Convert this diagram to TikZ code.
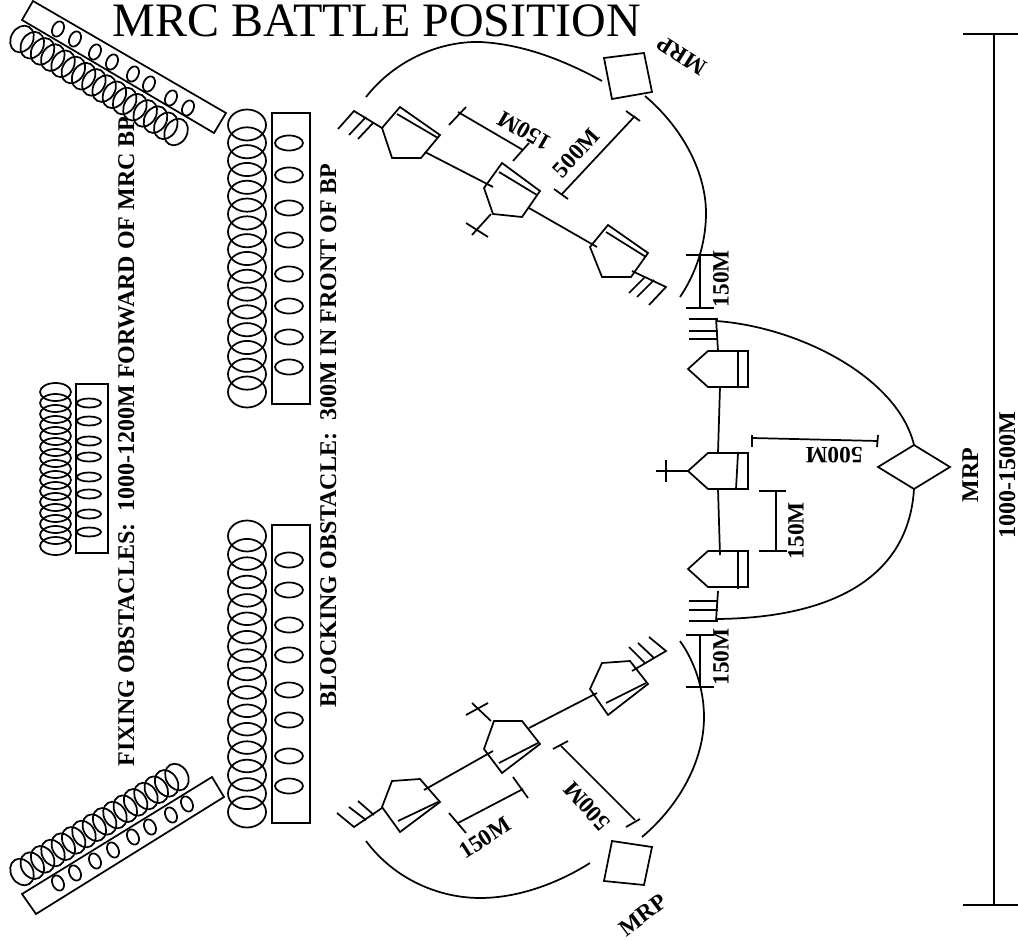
\documentclass[tikz,border=0pt]{standalone}
\usepackage{fontspec}
\setmainfont{Liberation Serif}

\begin{document}
\begin{tikzpicture}[x=0.75pt, y=-0.75pt, line width=1.3pt,
    lbl/.style={font=\fontsize{18}{20}\selectfont\bfseries, inner sep=0pt, anchor=base},
    dist/.style={lbl, font=\fontsize{17.5}{20}\selectfont\bfseries, anchor=center},
    oval/.style={draw=black}
  ]
    \useasboundingbox (0,0) rectangle (1018,941);

    \node[font=\fontsize{36}{40}\selectfont, inner sep=0pt, anchor=base] (title) at (377,37) {MRC BATTLE POSITION};

    \node[lbl, rotate=90] (fixing) at (134,441.5) {FIXING OBSTACLES:\ \ 1000-1200M FORWARD OF MRC BP};
    \node[lbl, rotate=90] (blocking) at (336,435.5) {BLOCKING OBSTACLE:\ \ 300M IN FRONT OF BP};

    % obstacle belts
    \draw (272,113) rectangle (310,404);
    \foreach \y in {143,175,208,240,274,306,337,367}
      \draw[oval] (289,\y) ellipse (14 and 7.5);
    \foreach \i in {0,...,15}
      \draw[oval] (247,125+17.8*\i) ellipse (19 and 15.5);

    \draw (272,525) rectangle (310,823);
    \foreach \y in {560,590,625,655,690,720,756,786}
      \draw[oval] (289,\y) ellipse (14 and 7.5);
    \foreach \i in {0,...,15}
      \draw[oval] (247,536+18.4*\i) ellipse (19 and 15.5);

    \draw (76,384) rectangle (108,553);
    \foreach \y in {403,421,441,457,477,494,514,532}
      \draw[oval] (89,\y) ellipse (12 and 4.5);
    \foreach \i in {0,...,14}
      \draw[oval] (55.5,392+11*\i) ellipse (15.5 and 9);

    \draw (33,1) -- (226,113) -- (214,133) -- (22,20) -- cycle;
    \foreach \x/\y in {58/29,75/39,95/52,112/62,133/74,149/84,171/98,188/108}
      \draw[oval] (\x,\y) ellipse [x radius=8, y radius=5.5, rotate=65];
    \foreach \i in {0,...,15}
      \draw[oval] (22+10.27*\i,39+6.2*\i) ellipse [x radius=14, y radius=11, rotate=60];

    \draw (22,894) -- (212,777) -- (224,797) -- (36,914) -- cycle;
    \foreach \x/\y in {58/883,75/873,95/861,113/850,133/837,150/827,171/815,187/804}
      \draw[oval] (\x,\y) ellipse [x radius=8, y radius=5.5, rotate=115];
    \foreach \i in {0,...,15}
      \draw[oval] (22+10.33*\i,872-6.33*\i) ellipse [x radius=14, y radius=11, rotate=120];

    % upper platoon
    \draw (382,128) -- (400,107) -- (440,135) -- (421,158) -- (392,158) -- cycle;
    \draw (397,114) -- (438,138);
    \draw (484,188) -- (502,163) -- (540,191) -- (522,217) -- (493,214) -- cycle;
    \draw (499,172) -- (537,195);
    \draw (590,247) -- (608,225) -- (648,253) -- (631,277) -- (602,277) -- cycle;
    \draw (606,232) -- (646,257);
    \draw (425,152) -- (493,187);
    \draw (529,208) -- (597,247);
    \draw (382,128) -- (354,111) -- (338,129);
    \draw (366,117) -- (349,135);
    \draw (373,123) -- (358,139);
    \draw (491,214) -- (472,235);
    \draw (466,223) -- (488,237);
    \draw (632,271) -- (666,287) -- (649,305);
    \draw (654,280) -- (637,297);
    \draw (645,277) -- (629,293);
    \draw (366,97) .. controls (395,60) and (440,41) .. (480,42) .. controls (520,44) and (560,58) .. (602,81);
    \draw (645,96) .. controls (685,130) and (706,175) .. (706,213) .. controls (706,245) and (695,275) .. (680,297);
    \draw (604,58) -- (644,53) -- (652,92) -- (612,99) -- cycle;

    \draw (458,112) -- (523,150);
    \draw (449,125) -- (466,107);
    \draw (513,161) -- (529,143);
    \draw (635,116) -- (562,194);
    \draw (626,111) -- (640,121);
    \draw (554,189) -- (568,199);
    \node[dist, rotate=150] (dima) at (524,131) {150M};
    \node[dist, rotate=48] (dimb) at (576,153) {500M};
    \node[dist, rotate=148] (mrpa) at (682,56) {MRP};

    % centre platoon
    \foreach \y in {351,453,551}
      \draw (688,\y+18) -- (708,\y) -- (748,\y) -- (748,\y+36) -- (708,\y+36) -- cycle;
    \draw (738,351) -- (738,387);
    \draw (738,453) -- (736,489);
    \draw (738,551) -- (738,589);
    \draw (720,387) -- (718,453);
    \draw (718,489) -- (720,555);
    \draw (718,351) -- (716,318);
    \draw (718,591) -- (716,621);
    \foreach \y in {319,331,339,601,610,621}
      \draw (689,\y) -- (718,\y);
    \draw (688,471) -- (656,471);
    \draw (666,460) -- (666,482);
    \draw (716,321) .. controls (800,327) and (898,378) .. (914,445);
    \draw (914,489) .. controls (908,585) and (820,618) .. (717,619);
    \draw (878,467) -- (914,445) -- (950,467) -- (914,489) -- cycle;

    \draw (752,438) -- (878,441);
    \draw (752,435) -- (752,447);
    \draw (878,435) -- (877,447);
    \node[dist, rotate=180] (dimc) at (834,455) {500M};
    \draw (776,491) -- (776,551);
    \draw (759,491) -- (786,491);
    \draw (759,551) -- (787,551);
    \node[dist, rotate=90] (dimd) at (796,530.5) {150M};

    % gaps between platoons
    \draw (700,255) -- (700,308);
    \draw (686,255) -- (714,255);
    \draw (686,308) -- (714,308);
    \node[dist, rotate=90] (dime) at (721,278.5) {150M};
    \draw (700,635) -- (700,687);
    \draw (686,635) -- (714,635);
    \draw (686,687) -- (714,687);
    \node[dist, rotate=90] (dimf) at (721,657) {150M};

    % lower platoon
    \draw (382,807) -- (392,781) -- (420,779) -- (440,802) -- (400,832) -- cycle;
    \draw (398,821) -- (438,802);
    \draw (484,749) -- (494,721) -- (522,721) -- (540,744) -- (502,773) -- cycle;
    \draw (499,763) -- (538,743);
    \draw (590,689) -- (602,663) -- (630,661) -- (648,684) -- (608,715) -- cycle;
    \draw (606,703) -- (646,683);
    \draw (424,790) -- (493,751);
    \draw (529,728) -- (597,693);
    \draw (382,808) -- (354,827) -- (337,813);
    \draw (366,820) -- (349,807);
    \draw (374,815) -- (358,801);
    \draw (491,721) -- (472,703);
    \draw (466,715) -- (488,703);
    \draw (632,671) -- (666,651) -- (649,637);
    \draw (654,658) -- (638,643);
    \draw (645,663) -- (629,647);
    \draw (366,841) .. controls (395,880) and (440,898) .. (480,898) .. controls (520,898) and (560,882) .. (590,863);
    \draw (642,837) .. controls (680,805) and (704,760) .. (704,717) .. controls (704,690) and (695,662) .. (680,641);
    \draw (612,841) -- (652,847) -- (644,885) -- (604,881) -- cycle;

    \draw (458,823) -- (523,789);
    \draw (449,813) -- (466,833);
    \draw (513,777) -- (528,798);
    \draw (561,746) -- (635,820);
    \draw (553,749) -- (568,741);
    \draw (626,827) -- (640,819);
    \node[dist, rotate=33] (dimg) at (485,838) {150M};
    \node[dist, rotate=132] (dimh) at (587,806) {500M};
    \node[dist, rotate=37] (mrpb) at (643,915) {MRP};

    % overall depth
    \draw (994,34) -- (994,905);
    \draw (963,34) -- (1018,34);
    \draw (963,905) -- (1018,905);
    \node[lbl, rotate=90] (mrpc) at (978,475) {MRP};
    \node[lbl, rotate=90] (depth) at (1015,475) {1000-1500M};
  \end{tikzpicture}
\end{document}
